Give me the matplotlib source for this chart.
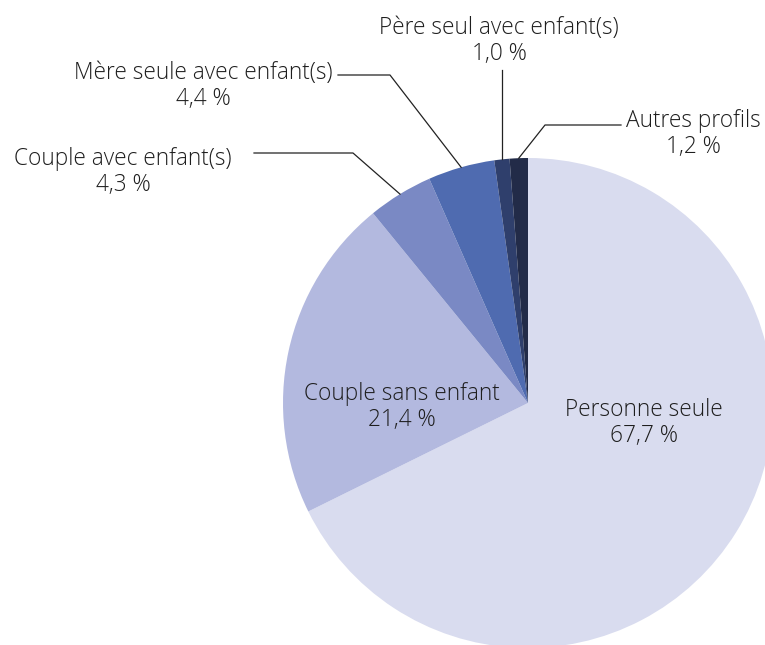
import numpy as np
import matplotlib
matplotlib.use("Agg")
import matplotlib.pyplot as plt

labels = ["Personne seule", "Couple sans enfant", "Couple avec enfant(s)",
          "Mère seule avec enfant(s)", "Père seul avec enfant(s)", "Autres profils"]
values = [67.7, 21.4, 4.3, 4.4, 1.0, 1.2]
colors = ["#d9dcef", "#b3b9df", "#7a89c4", "#4f6bb0", "#2f3f6c", "#222b48"]

plt.rcParams['font.family'] = ['Open Sans', 'DejaVu Sans']

W, H = 765, 645
fig = plt.figure(figsize=(W / 100, H / 100), dpi=100)
ax = fig.add_axes([0, 0, 1, 1])

cx, cy, R = 528, H - 403, 245
wedges, _ = ax.pie(values, colors=colors, startangle=90, counterclock=False,
                   center=(cx, cy), radius=R, wedgeprops=dict(linewidth=0))
ax.set_xlim(0, W)
ax.set_ylim(0, H)
ax.set_aspect('equal')
ax.axis('off')

def fmt(v):
    return ("%.1f %%" % v).replace(".", ",")

txt = dict(ha="center", va="center", fontsize=16.3, color="#1e1e1e",
           linespacing=1.12, fontweight="light")

# inside labels (pixel positions, y from top)
inside = {0: (644, 423), 1: (402, 407)}
for i, (px, py) in inside.items():
    ax.text(px, H - py, labels[i] + "\n" + fmt(values[i]), **txt)

# outside labels: text centre, elbow point, end of horizontal leader
outside = {
    2: ((123, 172), (353, 153), 254),
    3: ((203, 86), (390, 75), 338),
    4: ((499, 41), None, None),
    5: ((693, 134), (545, 125), 621),
}
for i, ((tx, ty), elbow, xend) in outside.items():
    w = wedges[i]
    mid = np.deg2rad((w.theta1 + w.theta2) / 2)
    ex, ey = cx + R * np.cos(mid), cy + R * np.sin(mid)
    if elbow is None:
        ax.plot([ex, ex], [ey, H - 70], color="#222222", lw=0.9)
    else:
        ax.plot([ex, elbow[0], xend], [ey, H - elbow[1], H - elbow[1]],
                color="#222222", lw=0.9)
    ax.text(tx, H - ty, labels[i] + "\n" + fmt(values[i]), **txt)

fig.savefig("out.png", dpi=100)
